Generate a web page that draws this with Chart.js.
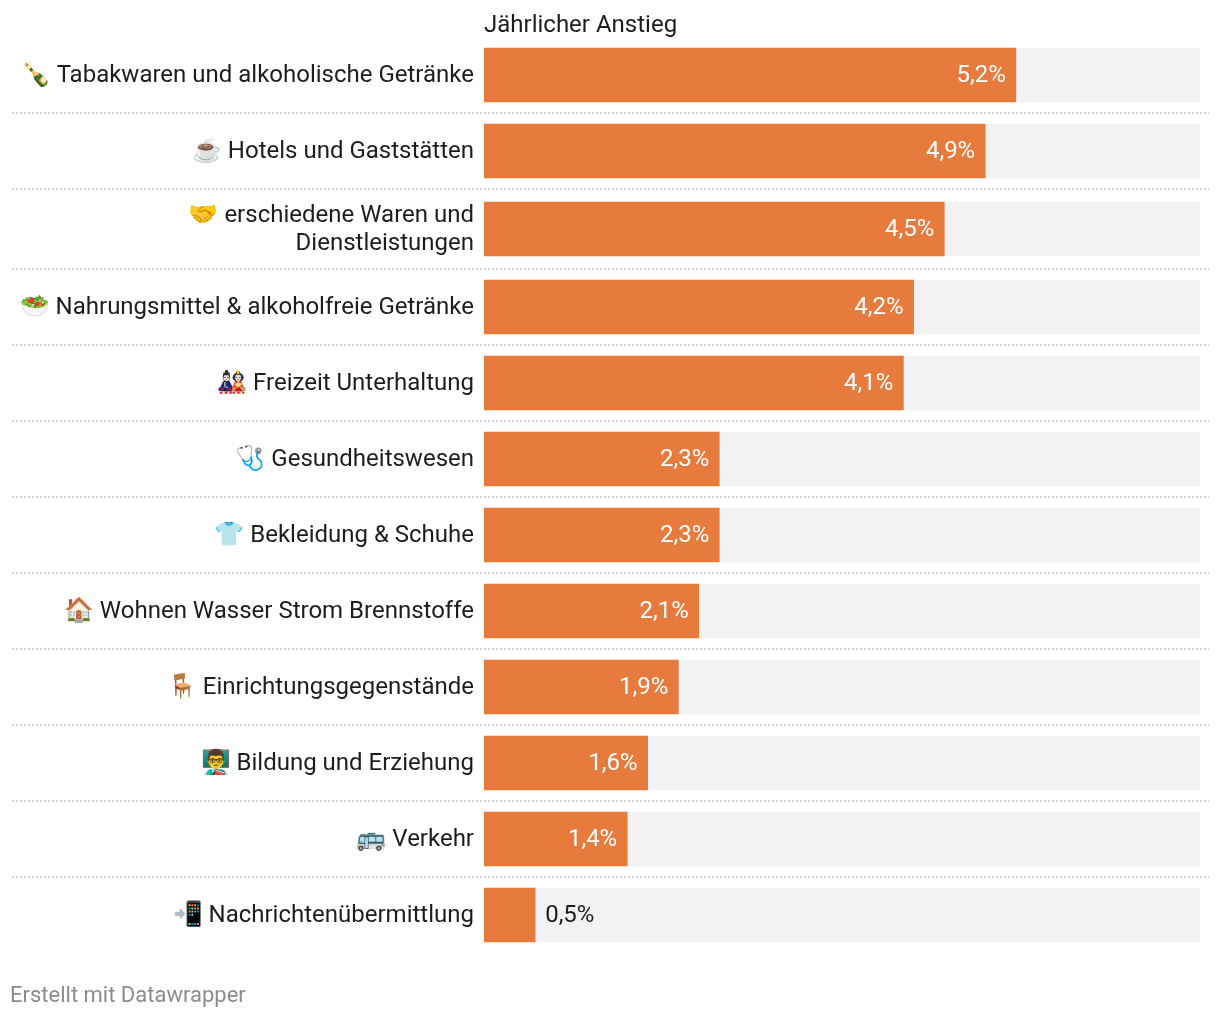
<!DOCTYPE html>
<html lang="de">
<head>
<meta charset="utf-8">
<title>Jährlicher Anstieg</title>
<script src="https://cdn.jsdelivr.net/npm/chart.js@4/dist/chart.umd.min.js"></script>
<style>
  html, body { margin: 0; padding: 0; background: #fff; }
  #wrap { width: 1220px; height: 1018px; position: relative; }
</style>
</head>
<body>
<div id="wrap"><canvas id="chart"></canvas></div>
<script>
'use strict';

// ***** DATA *****
const categories = [
  ['🍾 Tabakwaren und alkoholische Getränke'],
  ['☕ Hotels und Gaststätten'],
  ['🤝 erschiedene Waren und', 'Dienstleistungen'],
  ['🥗 Nahrungsmittel & alkoholfreie Getränke'],
  ['🎎 Freizeit Unterhaltung'],
  ['🩺 Gesundheitswesen'],
  ['👕 Bekleidung & Schuhe'],
  ['🏠 Wohnen Wasser Strom Brennstoffe'],
  ['🪑 Einrichtungsgegenstände'],
  ['👨‍🏫 Bildung und Erziehung'],
  ['🚌 Verkehr'],
  ['📲 Nachrichtenübermittlung']
];
const increases = [5.2, 4.9, 4.5, 4.2, 4.1, 2.3, 2.3, 2.1, 1.9, 1.6, 1.4, 0.5];
const axisMax = 7;
const columnTitle = 'Jährlicher Anstieg';
const credit = 'Erstellt mit Datawrapper';

// ***** STYLE *****
const FONT = 'Roboto, "Noto Sans", sans-serif';
const INK = '#1d1d1d';
const ORANGE = '#e67b3d';
const TRACK = '#f2f2f2';
const ROW_H = 76;
const WRAP_EXTRA = 4; // rows with a two line label are a bit taller

// category scale where wrapped rows take up more room
class RowScale extends Chart.CategoryScale {
  rowTop(i){
    let top = this.top;
    for (let k = 0; k < i; k++) {
      top += ROW_H + (categories[k].length > 1 ? WRAP_EXTRA : 0);
    }
    return top;
  }
  getPixelForValue(value){
    const i = typeof value === 'number' ? value : this.parse(value);
    const h = ROW_H + (categories[i].length > 1 ? WRAP_EXTRA : 0);
    return this.rowTop(i) + h / 2;
  }
  getPixelForTick(index){
    // label text sits one pixel under the bar centre
    return super.getPixelForTick(index) + 1;
  }
}
RowScale.id = 'rows';
RowScale.defaults = Chart.CategoryScale.defaults;
Chart.register(RowScale);

// dotted separators, value labels, column title and credit
const decorations = {
  id: 'decorations',
  beforeDatasetsDraw(chart){
    const ctx = chart.ctx;
    const y = chart.scales.y;
    ctx.save();
    ctx.strokeStyle = '#d2d2d2';
    ctx.lineWidth = 2;
    ctx.setLineDash([2, 2]);
    for (let i = 1; i < categories.length; i++) {
      const lineY = y.rowTop(i);
      ctx.beginPath();
      ctx.moveTo(12, lineY);
      ctx.lineTo(1209, lineY);
      ctx.stroke();
    }
    ctx.restore();
  },
  afterDatasetsDraw(chart){
    const ctx = chart.ctx;
    const bars = chart.getDatasetMeta(0).data;
    ctx.save();
    ctx.font = '24px ' + FONT;
    ctx.textBaseline = 'middle';
    increases.forEach((v, i) => {
      const text = v.toFixed(1).replace('.', ',') + '%';
      const bar = bars[i];
      const inside = ctx.measureText(text).width + 20 < bar.x - chart.scales.x.left;
      ctx.textAlign = inside ? 'right' : 'left';
      ctx.fillStyle = inside ? '#fff' : INK;
      ctx.fillText(text, inside ? bar.x - 10 : bar.x + 10, bar.y + 1);
    });
    ctx.textAlign = 'left';
    ctx.fillStyle = INK;
    ctx.fillText(columnTitle, chart.scales.x.left, 26);
    ctx.font = '22px ' + FONT;
    ctx.fillStyle = '#8c8c8c';
    ctx.fillText(credit, 10, 996);
    ctx.restore();
  }
};

new Chart(document.getElementById('chart'), {
  type: 'bar',
  data: {
    labels: categories,
    datasets: [
      {
        data: increases,
        backgroundColor: ORANGE,
        order: 1,
        grouped: false,
        barThickness: 54
      },
      {
        data: categories.map(() => axisMax),
        backgroundColor: TRACK,
        order: 2,
        grouped: false,
        barThickness: 54
      }
    ]
  },
  options: {
    indexAxis: 'y',
    responsive: true,
    maintainAspectRatio: false,
    animation: false,
    layout: { padding: { top: 37, right: 20, bottom: 65, left: 0 } },
    scales: {
      x: {
        min: 0,
        max: axisMax,
        display: false
      },
      y: {
        type: 'rows',
        afterFit(scale){ scale.width = 484; },
        border: { display: false },
        grid: { display: false },
        ticks: {
          autoSkip: false,
          padding: 2,
          color: INK,
          font: { family: FONT, size: 24, lineHeight: 28 / 24 }
        }
      }
    },
    plugins: {
      legend: { display: false },
      tooltip: { enabled: false }
    }
  },
  plugins: [decorations]
});
</script>
</body>
</html>
